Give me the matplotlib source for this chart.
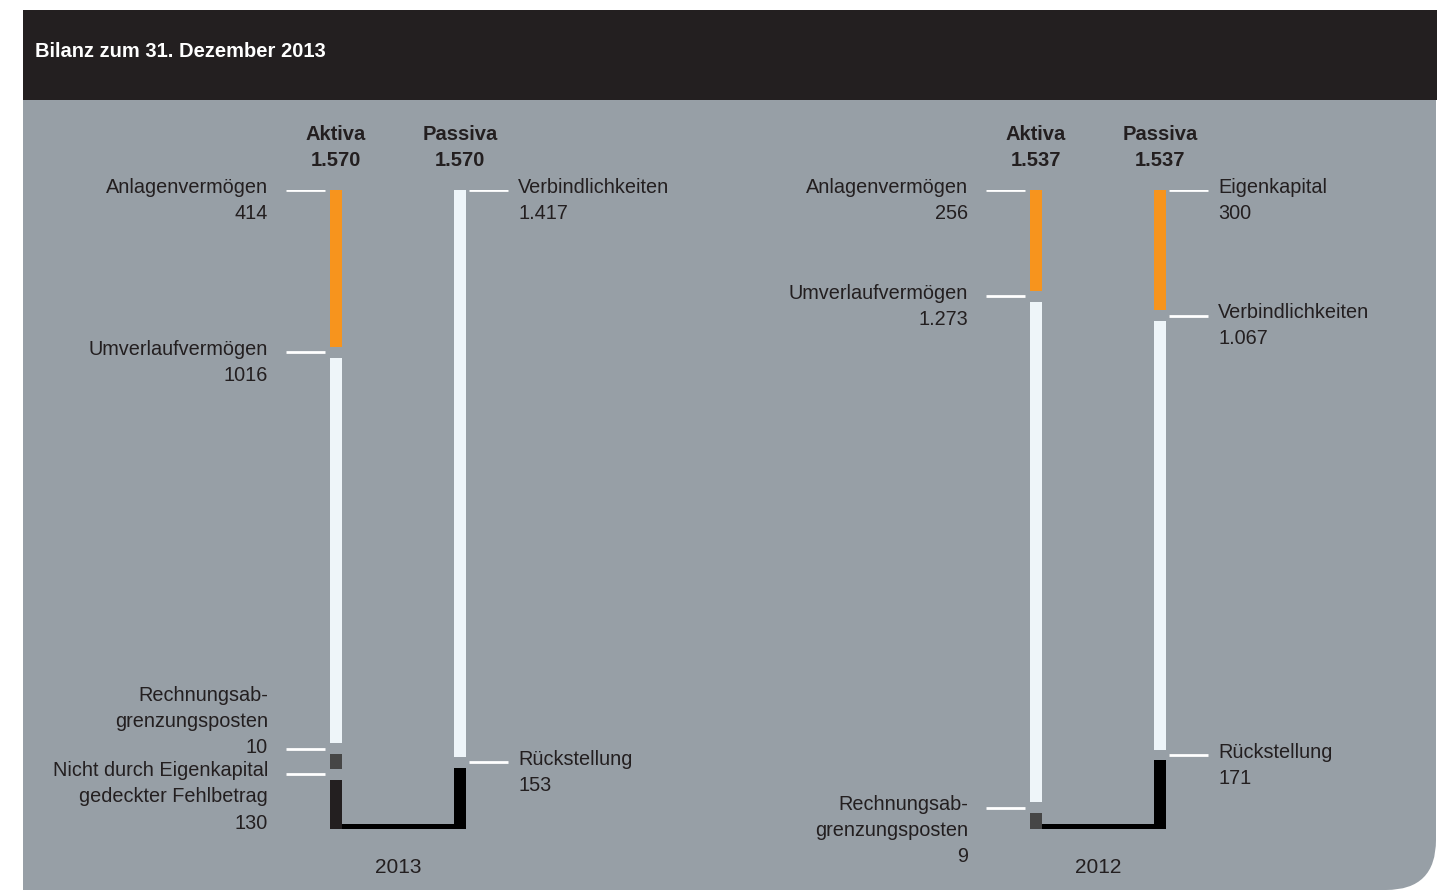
import matplotlib.pyplot as plt
from matplotlib.patches import Rectangle, FancyBboxPatch

plt.rcParams['font.family'] = ['Liberation Sans', 'DejaVu Sans']

# data
title = 'Bilanz zum 31. Dezember 2013'
years = ['2013', '2012']
total_values = [1570, 1537]
total_texts = ['1.570', '1.537']

aktiva_2013_labels = ['Anlagenvermögen', 'Umverlaufvermögen', 'Rechnungsab-\ngrenzungsposten',
                      'Nicht durch Eigenkapital\ngedeckter Fehlbetrag']
aktiva_2013_values = [414, 1016, 10, 130]
aktiva_2013_texts = ['414', '1016', '10', '130']
passiva_2013_labels = ['Verbindlichkeiten', 'Rückstellung']
passiva_2013_values = [1417, 153]
passiva_2013_texts = ['1.417', '153']

aktiva_2012_labels = ['Anlagenvermögen', 'Umverlaufvermögen', 'Rechnungsab-\ngrenzungsposten']
aktiva_2012_values = [256, 1273, 9]
aktiva_2012_texts = ['256', '1.273', '9']
passiva_2012_labels = ['Eigenkapital', 'Verbindlichkeiten', 'Rückstellung']
passiva_2012_values = [300, 1067, 171]
passiva_2012_texts = ['300', '1.067', '171']

# colours
GREY = '#979fa6'
DARK = '#231f20'
colors = {
    'Anlagenvermögen': '#f7941d',
    'Eigenkapital': '#f7941d',
    'Umverlaufvermögen': '#eef5f9',
    'Verbindlichkeiten': '#eef5f9',
    'Rechnungsab-\ngrenzungsposten': '#464646',
    'Nicht durch Eigenkapital\ngedeckter Fehlbetrag': '#231f20',
    'Rückstellung': '#000000',
}

W, H = 1446, 890
fig = plt.figure(figsize=(W / 100, H / 100), dpi=100)
fig.patch.set_facecolor('white')

# background panel (rounded bottom right corner) and header band
inch = fig.dpi_scale_trans
fig.patches.append(FancyBboxPatch((0.23, 0.0), 14.13, 8.6, boxstyle='round,pad=0,rounding_size=0.5',
                                  transform=inch, facecolor=GREY, edgecolor='none', zorder=-3))
fig.patches.append(Rectangle((0.23, 0.0), 7.0, 8.6, transform=inch, facecolor=GREY,
                             edgecolor='none', zorder=-3))
fig.patches.append(Rectangle((0.23, 7.90), 14.14, 0.90, transform=inch, facecolor=DARK,
                             edgecolor='none', zorder=-2))
fig.text(35 / W, 1 - 57 / H, title, color='white', fontsize=14.5, fontweight='bold',
         va='baseline', ha='left')

PX = 124.0           # pixels per x unit
BAR_W = 12 / PX
GAP = 26             # gap between segments, in value units
MIN_SHOWN = 40       # smallest drawn segment, in value units
LABEL_SIZE = 14.3
LINE_PT = 18.4       # line height of the labels, points


def draw_column(ax, x, labels, values, texts, total, side, raised=()):
    shown = [max(v, MIN_SHOWN) for v in values]
    k = (total - GAP * (len(values) - 1)) / sum(shown)
    y = 0.0
    for i, (lab, val, txt) in enumerate(zip(labels, values, texts)):
        h = shown[i] * k
        ax.bar(x, h, bottom=y, width=BAR_W, color=colors[lab], align='center', zorder=3)
        mark_y = y if i == 0 else y - GAP / 2
        if side == 'left':
            mx = [x - 50 / PX, x - 11 / PX]
            tx, ha = x - 68 / PX, 'right'
        else:
            mx = [x + 9 / PX, x + 48 / PX]
            tx, ha = x + 58 / PX, 'left'
        ax.plot(mx, [mark_y, mark_y], color='white', lw=2, solid_capstyle='butt', zorder=3)
        s = lab + '\n' + txt
        nlines = s.count('\n') + 1
        if i in raised:
            dy = -3
        else:
            dy = -(nlines - 1) * LINE_PT - 2.2
        ax.annotate(s, xy=(tx, mark_y), xytext=(0, dy), textcoords='offset points',
                    ha=ha, va='baseline', multialignment=ha, fontsize=LABEL_SIZE,
                    color=DARK, linespacing=1.47, annotation_clip=False)
        y += h + GAP


columns = [
    (aktiva_2013_labels, aktiva_2013_values, aktiva_2013_texts,
     passiva_2013_labels, passiva_2013_values, passiva_2013_texts, (2,)),
    (aktiva_2012_labels, aktiva_2012_values, aktiva_2012_texts,
     passiva_2012_labels, passiva_2012_values, passiva_2012_texts, ()),
]

for j, (al, av, at, pl, pv, pt, raised) in enumerate(columns):
    left = 23 + 700 * j
    ax = fig.add_axes([left / W, 61 / H, 700 / W, 639 / H])
    ax.set_xlim(-313 / PX, 387 / PX)
    ax.set_ylim(total_values[j], 0)
    ax.axis('off')
    ax.patch.set_alpha(0)

    draw_column(ax, 0, al, av, at, total_values[j], 'left', raised)
    draw_column(ax, 1, pl, pv, pt, total_values[j], 'right')

    # connector at the bottom
    thick = 5 * total_values[j] / 639
    ax.add_patch(Rectangle((BAR_W / 2, total_values[j] - thick), 1 - BAR_W, thick,
                           facecolor='black', edgecolor='none', zorder=3))

    for xx, head in [(0, 'Aktiva'), (1, 'Passiva')]:
        ax.annotate(head + '\n' + total_texts[j], xy=(xx, 0), xytext=(0, 17.3),
                    textcoords='offset points', ha='center', va='baseline',
                    multialignment='center', fontsize=14.5, fontweight='bold',
                    color=DARK, linespacing=1.45, annotation_clip=False)

    ax.annotate(years[j], xy=(0.5, total_values[j]), xytext=(0, -31.5),
                textcoords='offset points', ha='center', va='baseline',
                fontsize=15, color=DARK, annotation_clip=False)

fig.savefig('out.png', dpi=100, facecolor='white')
